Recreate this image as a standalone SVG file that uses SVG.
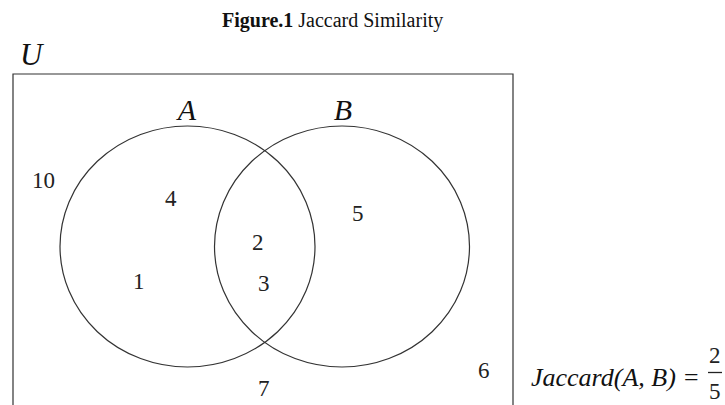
<svg xmlns="http://www.w3.org/2000/svg" width="725" height="405" viewBox="0 0 725 405">
<style>
.t{font-family:"Liberation Serif","Times New Roman",serif;fill:#111}
.n{font-family:"Liberation Serif","DejaVu Serif",serif;font-size:23px;fill:#222}
.i{font-family:"Liberation Serif","DejaVu Serif",serif;font-style:italic;fill:#111}
.s{fill:none;stroke:#333;stroke-width:1.2}
</style>
<rect width="725" height="405" fill="#fff"/>
<text class="t" x="222" y="27" font-size="20"><tspan font-weight="bold">Figure.1</tspan> Jaccard Similarity</text>
<text class="i" x="20" y="65" font-size="31">U</text>
<g id="universe"><path class="s" d="M13,405 V74 H513 V405"/></g>
<g id="setA">
<ellipse class="s" cx="187.5" cy="246.5" rx="127.5" ry="120.5"/>
<text class="i" x="187" y="120" font-size="30" text-anchor="middle">A</text>
</g>
<g id="setB">
<ellipse class="s" cx="342" cy="246.5" rx="127.5" ry="120.5"/>
<text class="i" x="343" y="120" font-size="30" text-anchor="middle">B</text>
</g>
<g id="labels">
<text class="n" x="32" y="188">10</text>
<text class="n" x="165" y="206">4</text>
<text class="n" x="252" y="250">2</text>
<text class="n" x="133" y="289">1</text>
<text class="n" x="258" y="291">3</text>
<text class="n" x="352" y="221">5</text>
<text class="n" x="478" y="378">6</text>
<text class="n" x="258" y="396">7</text>
</g>
<g id="formula">
<text class="i" x="531" y="386" font-size="26">Jaccard(A, B) =</text>
<text class="n" x="709" y="363" font-size="21">2</text>
<line x1="708" y1="372.5" x2="722" y2="372.5" stroke="#222" stroke-width="1.3"/>
<text class="n" x="709" y="399" font-size="21">5</text>
</g>
<g id="connectors"/>
</svg>
